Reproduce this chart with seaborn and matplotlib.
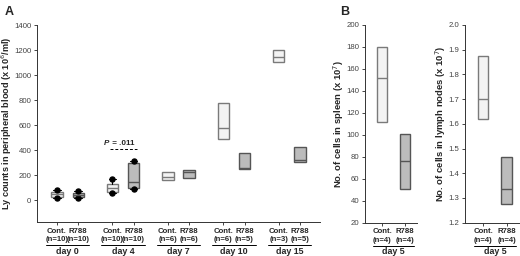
import numpy as np
import matplotlib
matplotlib.use("Agg")
import matplotlib.pyplot as plt
import matplotlib.transforms as mtransforms
import seaborn as sns

sns.set_style("ticks")
plt.rcParams["font.family"] = ["Liberation Sans", "DejaVu Sans"]

# panel A: Ly counts in peripheral blood
days = ["day 0", "day 4", "day 7", "day 10", "day 15"]
cont_n = [10, 10, 6, 6, 3]
r788_n = [10, 10, 6, 5, 5]
cont_q1 = [25, 62, 160, 488, 1101]
cont_med = [45, 100, 184, 578, 1141]
cont_q3 = [65, 130, 226, 776, 1200]
cont_lo = [20, 57, None, None, None]
cont_hi = [80, 165, None, None, None]
r788_q1 = [25, 100, 176, 248, 301]
r788_med = [40, 147, 228, 256, 320]
r788_q3 = [60, 300, 240, 373, 421]
r788_lo = [20, 92, None, None, None]
r788_hi = [72, 310, None, None, None]

# panel B: day 5 organs
spleen_cont = [112, 152, 180]
spleen_r788 = [50.4, 75.8, 100.6]
lymph_cont = [1.618, 1.70, 1.876]
lymph_r788 = [1.274, 1.335, 1.467]
b_n = [4, 4]

light_fill, light_edge = "#f3f3f3", "#7a7a7a"
dark_fill, dark_edge = "#bcbcbc", "#555555"


def make_stats(q1, med, q3, lo=None, hi=None):
    s = {"q1": q1, "med": med, "q3": q3,
         "whislo": q1 if lo is None else lo,
         "whishi": q3 if hi is None else hi,
         "fliers": [] if lo is None else [lo, hi]}
    return s


def draw_box(ax, stats, pos, width, fill, edge):
    has_whisk = len(stats["fliers"]) > 0
    ax.bxp([stats], positions=[pos], widths=width, patch_artist=True,
           showfliers=has_whisk, showcaps=has_whisk,
           boxprops=dict(facecolor=fill, edgecolor=edge, linewidth=1.0),
           medianprops=dict(color=edge, linewidth=1.0),
           whiskerprops=dict(color="black", linewidth=0.8),
           capprops=dict(color="black", linewidth=0.8),
           capwidths=width * 0.7,
           flierprops=dict(marker="o", markerfacecolor="black",
                           markeredgecolor="black", markersize=3.6),
           manage_ticks=False, zorder=3)


def group_labels(ax, centers, labels, half):
    trans = mtransforms.blended_transform_factory(ax.transData, ax.transAxes)
    for c, lab in zip(centers, labels):
        ax.plot([c - half, c + half], [-0.117, -0.117], transform=trans,
                color="black", lw=0.7, clip_on=False)
        ax.text(c, -0.125, lab, transform=trans, ha="center", va="top",
                fontsize=6.4, fontweight="bold")


fig = plt.figure(figsize=(5.2, 2.56), dpi=100)
axA = fig.add_axes([37 / 520, 1 - 222 / 256, 283 / 520, 197 / 256])
axS = fig.add_axes([365 / 520, 1 - 222.7 / 256, 52 / 520, 197.7 / 256])
axL = fig.add_axes([465 / 520, 1 - 222.7 / 256, 54 / 520, 197.7 / 256])

off = 0.19
xpos = np.arange(len(days))
tick_pos, tick_lab = [], []
for i in range(len(days)):
    draw_box(axA, make_stats(cont_q1[i], cont_med[i], cont_q3[i], cont_lo[i], cont_hi[i]),
             xpos[i] - off, 0.2, light_fill, light_edge)
    draw_box(axA, make_stats(r788_q1[i], r788_med[i], r788_q3[i], r788_lo[i], r788_hi[i]),
             xpos[i] + off, 0.2, dark_fill, dark_edge)
    tick_pos += [xpos[i] - off, xpos[i] + off]
    tick_lab += [f"Cont.\n(n={cont_n[i]})", f"R788\n(n={r788_n[i]})"]

axA.set_xlim(-0.55, 4.55)
axA.set_ylim(-175, 1400)
axA.set_yticks(np.arange(0, 1401, 200))
axA.set_xticks(tick_pos)
axA.set_xticklabels(tick_lab, fontsize=5.6, fontweight="bold", linespacing=1.3)
axA.set_ylabel("Ly counts in peripheral blood (x 10$^6$/ml)", fontsize=6.6,
               fontweight="bold")
axA.yaxis.set_label_coords(-0.083, 0.5)
group_labels(axA, xpos, days, 0.39)

# significance mark at day 4
axA.plot([xpos[1] - 0.23, xpos[1] + 0.25], [405, 405], color="black", lw=0.7,
         ls=(0, (3, 2)))
axA.annotate("P", xy=(xpos[1] + 0.01, 425), xytext=(-10, 0), textcoords="offset points",
             ha="right", va="bottom", fontsize=5.8, fontweight="bold", fontstyle="italic")
axA.annotate(" = .011", xy=(xpos[1] + 0.01, 425), xytext=(-10, 0), textcoords="offset points",
             ha="left", va="bottom", fontsize=5.8, fontweight="bold")

for ax, cont, r788, ylim, yticks, ylab, lx in [
        (axS, spleen_cont, spleen_r788, (20, 200), np.arange(20, 201, 20),
         "No. of cells in spleen (x 10$^7$)", -0.37),
        (axL, lymph_cont, lymph_r788, (1.2, 2.0), np.round(np.arange(1.2, 2.01, 0.1), 1),
         "No. of cells in lymph nodes (x 10$^7$)", -0.31)]:
    draw_box(ax, make_stats(*cont), 0, 0.45, light_fill, light_edge)
    draw_box(ax, make_stats(*r788), 1, 0.45, dark_fill, dark_edge)
    ax.set_xlim(-0.76, 1.52)
    ax.set_ylim(*ylim)
    ax.set_yticks(yticks)
    ax.set_xticks([0, 1])
    ax.set_xticklabels([f"Cont.\n(n={b_n[0]})", f"R788\n(n={b_n[1]})"], fontsize=5.6,
                       fontweight="bold", linespacing=1.3)
    ax.set_ylabel(ylab, fontsize=6.8, fontweight="bold")
    ax.yaxis.set_label_coords(lx, 0.5)
    group_labels(ax, [0.5], ["day 5"], 0.9)
axL.set_yticklabels([f"{t:.1f}" for t in np.round(np.arange(1.2, 2.01, 0.1), 1)])

for ax in (axA, axS, axL):
    sns.despine(ax=ax)
    ax.tick_params(axis="y", labelsize=5.6, labelcolor="#444444", length=2.5,
                   width=0.6, pad=1.5)
    ax.tick_params(axis="x", length=2, width=0.6, pad=2)
    for sp in ("left", "bottom"):
        ax.spines[sp].set_linewidth(0.7)
        ax.spines[sp].set_color("#333333")

fig.text(5 / 520, 1 - 12 / 256, "A", fontsize=9, fontweight="bold", va="center")
fig.text(340 / 520, 1 - 12 / 256, "B", fontsize=9, fontweight="bold", va="center")

fig.savefig("out.png", dpi=100)
